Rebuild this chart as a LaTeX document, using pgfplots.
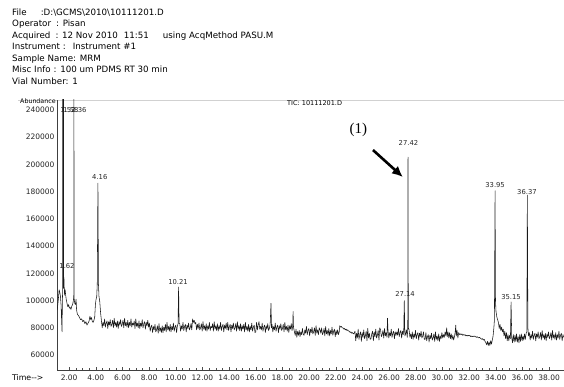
\documentclass[border=0pt]{standalone}
\usepackage{pgfplots}
\pgfplotsset{compat=1.18}
\usetikzlibrary{arrows.meta}
\usepackage{fontspec}
\setmainfont{DejaVu Sans}
\newfontfamily\timesf{Liberation Serif}
\begin{document}
\begin{tikzpicture}[x=1pt,y=1pt]
\useasboundingbox (0,0) rectangle (564,387);
% header
\begin{scope}[every node/.style={anchor=base west,inner sep=0pt,font=\fontsize{8.7}{10}\selectfont}]
\node at (12,371.5) {File\hspace{14pt}:D:\textbackslash GCMS\textbackslash 2010\textbackslash 10111201.D};
\node at (12,360) {Operator\hspace{5pt}: Pisan};
\node at (12,348.5) {Acquired\hspace{5pt}: 12 Nov 2010\hspace{6pt}11:51\hspace{14pt}using AcqMethod PASU.M};
\node at (12,337) {Instrument :\hspace{7pt}Instrument \#1};
\node at (12,325.5) {Sample Name: MRM};
\node at (12,314) {Misc Info\hspace{3pt}: 100 um PDMS RT 30 min};
\node at (12,302.5) {Vial Number: 1};
\end{scope}
\draw[black!18,line width=0.4pt] (18,287) -- (564,287);
\node[anchor=west,inner sep=0pt,font=\fontsize{6.3}{7}\selectfont] at (20,286) {Abundance};
\node[anchor=west,inner sep=0pt,font=\fontsize{6.5}{7}\selectfont] at (287,284) {TIC: 10111201.D};
\node[anchor=west,inner sep=0pt,font=\fontsize{7.8}{9}\selectfont] at (12,9) {Time-{}->};
\begin{axis}[
  at={(57pt,17pt)}, anchor=south west,
  scale only axis, width=507pt, height=270pt,
  xmin=1.09, xmax=39.12, ymin=49000, ymax=247350,
  scaled ticks=false,
  axis x line=bottom, axis y line=left,
  axis line style={-, black!75, line width=0.5pt},
  xtick={2,4,...,38},
  xticklabels={2.00,4.00,6.00,8.00,10.00,12.00,14.00,16.00,18.00,20.00,22.00,24.00,26.00,28.00,30.00,32.00,34.00,36.00,38.00},
  minor x tick num=3,
  ytick={60000,80000,100000,120000,140000,160000,180000,200000,220000,240000},
  yticklabels={60000,80000,100000,120000,140000,160000,180000,200000,220000,240000},
  tick align=inside,
  major tick length=2.5pt, minor tick length=1.5pt,
  tick style={black!70, line width=0.4pt},
  ytick style={draw=none},
  tick label style={font=\fontsize{7.5}{8}\selectfont, text=black!85},
  xticklabel style={yshift=-1pt},
  yticklabel style={xshift=1pt},
  clip=true,
]
\addplot[black!90, line width=0.55pt, line join=round] table[x index=0, y expr=\thisrowno{1}*1000] {
t v
1.10 93
1.15 97
1.20 102
1.25 108
1.30 106
1.35 103
1.40 96
1.44 84
1.47 77
1.49 98
1.51 106
1.52 262
1.53 110
1.55 111
1.57 109
1.58 262
1.59 112
1.61 117
1.63 110
1.66 104
1.70 108
1.74 104
1.78 101
1.84 98
1.90 95.5
1.96 97
2.02 94.5
2.08 95
2.14 93.5
2.20 96
2.26 97
2.32 100
2.35 104
2.36 262
2.37 102
2.42 98
2.47 97
2.52 101
2.56 93
2.62 90
2.70 89
2.78 87.5
2.86 86
2.94 86.5
3.02 84.5
3.10 85.5
3.18 83
3.26 84.5
3.34 82
3.42 83.5
3.50 85
3.56 88.5
3.62 86
3.68 87.5
3.74 84.5
3.80 84
3.86 85.5
3.92 88
3.97 97
4.02 101
4.07 103
4.11 112
4.16 186.3
4.20 112
4.24 103
4.30 99
4.36 91
4.42 85.5
4.48 80
4.54 84
4.60 81.5
4.66 86.5
4.72 80.5
4.78 83.5
4.84 85
4.90 79.5
4.96 84.5
5.02 82
5.08 86
5.14 81
5.20 82.5
5.26 85.5
5.32 80
5.38 87
5.44 81.5
5.50 84
5.56 80.5
5.62 85
5.68 79.5
5.74 84.5
5.80 82
5.86 86
5.92 81
5.98 82.5
6.04 85.5
6.10 80
6.16 87
6.22 81.5
6.28 84
6.34 80.5
6.40 85.5
6.46 80
6.52 84
6.58 81.5
6.64 86.5
6.70 80.5
6.76 83.5
6.82 82
6.88 85
6.94 79.5
7.00 86.5
7.06 81
7.12 83.5
7.18 80
7.24 85
7.30 79.5
7.36 83.5
7.42 81
7.48 86
7.54 80
7.60 83
7.66 84.5
7.72 79
7.78 84
7.84 81.5
7.90 85.5
7.96 80.5
8.02 83.5
8.08 77.5
8.14 80.5
8.20 82
8.26 76.5
8.32 81
8.38 78.5
8.44 82.5
8.50 77
8.56 78.5
8.62 81.5
8.68 76
8.74 83
8.80 77.5
8.86 80
8.92 76.5
8.98 81.5
9.04 76.5
9.10 80.5
9.16 78
9.22 82.5
9.28 77
9.34 84
9.40 78.5
9.46 81
9.52 77.5
9.58 82.5
9.64 77
9.70 81
9.76 78.5
9.82 83.5
9.88 77.5
9.94 80.5
10.00 82
10.06 76.5
10.12 81.5
10.17 83
10.21 110
10.25 83
10.30 83
10.36 77.5
10.42 81.5
10.48 79
10.54 84
10.60 78
10.66 81
10.72 82.5
10.78 77
10.84 82
10.90 79.5
10.96 83.5
11.02 78.5
11.08 80
11.14 83
11.20 78.5
11.26 86.5
11.32 84
11.38 85.5
11.44 83
11.50 84
11.56 78.5
11.62 82.5
11.68 79.5
11.74 83.5
11.80 78.5
11.86 80
11.92 83
11.98 77.5
12.04 84.5
12.10 79
12.16 81.5
12.22 78
12.28 83
12.34 77.5
12.40 81.5
12.46 79
12.52 84
12.58 78
12.64 81
12.70 80
12.76 83
12.82 77.5
12.88 84.5
12.94 79
13.00 81.5
13.06 78
13.12 83
13.18 77.5
13.24 81.5
13.30 79
13.36 84
13.42 78
13.48 81
13.54 82.5
13.60 77
13.66 82
13.72 79.5
13.78 83.5
13.84 78.5
13.90 84
13.96 78
14.02 81
14.08 82.5
14.14 77
14.20 82
14.26 79.5
14.32 83.5
14.38 78.5
14.44 80
14.50 83
14.56 77.5
14.62 84.5
14.68 79
14.74 81.5
14.80 78
14.86 83
14.92 77.5
14.98 81.5
15.04 79
15.10 82.5
15.16 77
15.22 84
15.28 78.5
15.34 81
15.40 77.5
15.46 82.5
15.52 77
15.58 81
15.64 78.5
15.70 83.5
15.76 77.5
15.82 80.5
15.88 82
15.94 76.5
16.00 77
16.06 84
16.12 78.5
16.18 82
16.24 84.5
16.30 79
16.36 81
16.42 78.5
16.48 83.5
16.54 77.5
16.60 80.5
16.66 82
16.72 76.5
16.78 81.5
16.84 79
16.90 83
16.96 78
17.02 79.5
17.08 82.5
17.14 98
17.18 80
17.22 82.5
17.28 77
17.34 81
17.40 78.5
17.46 83.5
17.52 77.5
17.58 80.5
17.64 82
17.70 76.5
17.76 81.5
17.82 79
17.88 83
17.94 78
18.00 79.5
18.06 82.5
18.12 77
18.18 84
18.24 78.5
18.30 81
18.36 77.5
18.42 82
18.48 76.5
18.54 81.5
18.60 79
18.66 83
18.72 78
18.77 81
18.80 92
18.83 80.5
18.90 77
18.96 74.5
19.02 79
19.08 73
19.14 77.5
19.20 74.5
19.26 78
19.32 73.5
19.38 77
19.44 75
19.50 79.5
19.56 75
19.62 74.5
19.68 78.5
19.74 76
19.80 81
19.86 75
19.92 78
19.98 79.5
20.04 74
20.10 79
20.16 76.5
20.22 80.5
20.28 75.5
20.34 77
20.40 80
20.46 74.5
20.52 81.5
20.58 76
20.64 78.5
20.70 75
20.76 80
20.82 78.5
20.88 76
20.94 80
21.00 75
21.06 76.5
21.12 79.5
21.18 74
21.24 81
21.30 75.5
21.36 78
21.42 74.5
21.48 79.5
21.54 74
21.60 78
21.66 75.5
21.72 80.5
21.78 74.5
21.84 77.5
21.90 79
21.96 73.5
22.02 78
22.08 75
22.14 78.5
22.20 75
22.26 77
22.30 81.5
22.36 80.5
22.42 81
22.48 80
22.54 80
22.60 79
22.66 79.5
22.72 78.5
22.78 79
22.84 78
22.90 78.5
22.96 77.5
23.02 77.5
23.08 76.5
23.14 77
23.20 76
23.26 76.5
23.32 75.5
23.38 76
23.44 77.5
23.50 70.5
23.56 76
23.62 72.5
23.68 79
23.74 71.5
23.80 75
23.86 77
23.92 70
23.98 76.5
24.04 73
24.10 78.5
24.16 72
24.22 74
24.28 77.5
24.34 70.5
24.40 79.5
24.46 72.5
24.52 76
24.58 71.5
24.64 72
24.70 75.5
24.76 77.5
24.82 70.5
24.88 77
24.94 73.5
25.00 79
25.06 72.5
25.12 74.5
25.18 78
25.24 71
25.30 80
25.36 78.5
25.42 73.5
25.48 75
25.54 78
25.60 72.5
25.66 79.5
25.72 74
25.78 76.5
25.84 73
25.88 87
25.92 78
25.98 72.5
26.04 76.5
26.10 74
26.16 79
26.22 73
26.28 76
26.34 77.5
26.40 72
26.46 77
26.52 74.5
26.58 77
26.64 74.5
26.70 79.5
26.76 73.5
26.82 76.5
26.88 78
26.94 72.5
27.00 77.5
27.06 75
27.10 79
27.14 100
27.18 74
27.24 75.5
27.30 78.5
27.36 73
27.40 79
27.42 205.4
27.44 80
27.50 78.5
27.56 73
27.62 75.5
27.68 72
27.74 77
27.80 71.5
27.86 75.5
27.92 73
27.98 78
28.04 72
28.10 75
28.16 76.5
28.22 71
28.28 76
28.34 73.5
28.40 77.5
28.46 72.5
28.52 74
28.58 77
28.64 71.5
28.70 71.5
28.76 76.5
28.82 70.5
28.88 73.5
28.94 75
29.00 69.5
29.06 74.5
29.12 72
29.18 76
29.24 71
29.30 72.5
29.36 75.5
29.42 70
29.48 77
29.54 71.5
29.60 74
29.66 70.5
29.72 75.5
29.78 70
29.84 74
29.90 72
29.96 76.5
30.02 72.5
30.08 75
30.14 73
30.20 77
30.26 74
30.32 80
30.36 73.5
30.42 77
30.48 72.5
30.54 76.5
30.60 72
30.66 75.5
30.72 71.5
30.78 74.5
30.84 71
30.90 73.5
30.96 77
31.00 82
31.04 74
31.10 78
31.16 72.5
31.22 76.5
31.28 75
31.34 75.5
31.40 75
31.46 75.5
31.52 74.5
31.58 75
31.64 74.5
31.70 75
31.76 74
31.82 74.5
31.88 74
31.94 74.5
32.00 74
32.06 74.5
32.12 73.5
32.18 74
32.24 73.5
32.30 74
32.36 73.5
32.42 74
32.48 73.5
32.54 73
32.60 73.5
32.66 73
32.72 72.5
32.78 73
32.84 72.5
32.90 72
32.96 71.5
33.02 72
33.08 71
33.14 71.5
33.20 70
33.26 69
33.32 67.5
33.38 70
33.44 67
33.50 69.5
33.56 67
33.62 70.5
33.68 68
33.74 71
33.80 74
33.86 80
33.90 86
33.95 180.7
33.98 100
34.02 92
34.08 88
34.14 86
34.20 84
34.26 79.5
34.32 82.5
34.38 78
34.44 80.5
34.50 77
34.56 79
34.62 74
34.68 77.5
34.74 72
34.80 76.5
34.86 70.5
34.92 75
34.98 70.5
35.04 74.5
35.10 72
35.15 99
35.20 72.5
35.26 69
35.32 75
35.38 69.5
35.44 74.5
35.50 70
35.56 75.5
35.62 69.5
35.68 73.5
35.74 69
35.80 75
35.86 70
35.92 75.5
35.98 70.5
36.04 74
36.10 71
36.16 75.5
36.22 71.5
36.28 76
36.33 77
36.37 177.5
36.41 80
36.46 74
36.52 76.5
36.58 71
36.64 75
36.70 72.5
36.76 77.5
36.82 71.5
36.88 74.5
36.94 76
37.00 70.5
37.06 75.5
37.12 73
37.18 77
37.24 72
37.30 73.5
37.36 76.5
37.42 71
37.48 78
37.54 72.5
37.60 75
37.66 71.5
37.72 76
37.78 70.5
37.84 75.5
37.90 73
37.96 77
38.02 72
38.08 73.5
38.14 76.5
38.20 71
38.26 78
38.32 72.5
38.38 75
38.44 71.5
38.50 76.5
38.56 71
38.62 75
38.68 72.5
38.74 77.5
38.80 71.5
38.86 74.5
38.92 76
38.98 70.5
39.04 75
39.10 73
};
% peak labels
\begin{scope}[every node/.style={inner sep=0pt,font=\fontsize{6.8}{7}\selectfont,text=black!85}]
\node at (axis cs:1.91,240000) {1.52};
\node at (axis cs:2.14,240000) {1.58};
\node at (axis cs:2.74,240000) {2.36};
\node at (axis cs:1.84,125400) {1.62};
\node at (axis cs:4.30,190800) {4.16};
\node at (axis cs:10.17,113600) {10.21};
\node at (axis cs:27.20,104800) {27.14};
\node at (axis cs:27.45,215700) {27.42};
\node at (axis cs:33.95,184900) {33.95};
\node at (axis cs:35.15,102600) {35.15};
\node at (axis cs:36.34,179750) {36.37};
\end{scope}
\node[inner sep=0pt,font=\timesf\fontsize{15}{16}\selectfont] at (axis cs:23.7,225500) {(1)};
\draw[-{Latex[length=11pt,width=10pt]}, line width=2.6pt, black] (axis cs:24.79,210600) -- (axis cs:27.04,190700);
\end{axis}
\end{tikzpicture}
\end{document}
